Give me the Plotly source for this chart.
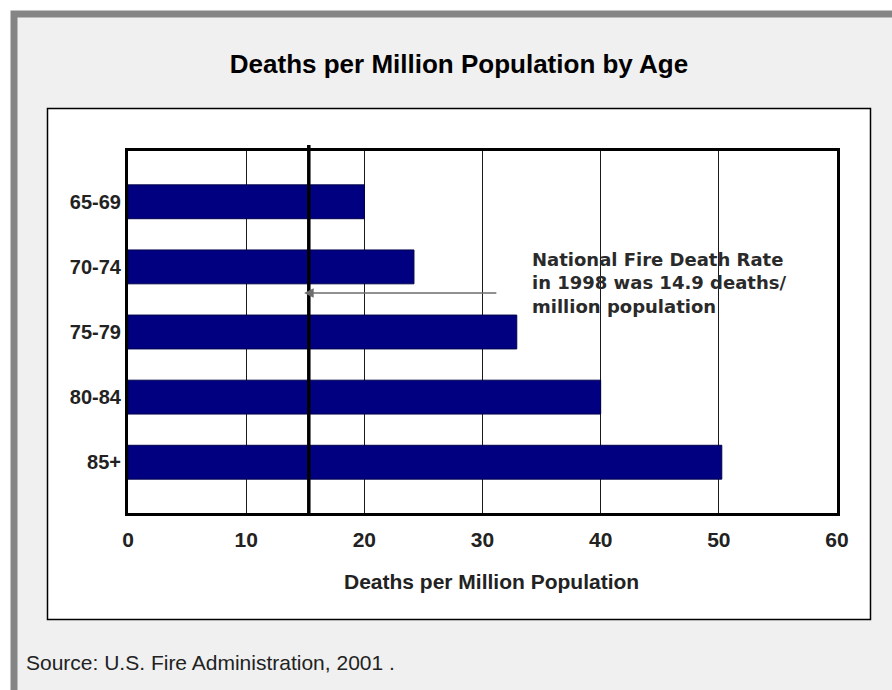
import plotly.graph_objects as go

# ---- data ----
age_groups = ["65-69", "70-74", "75-79", "80-84", "85+"]
deaths_per_million = [20.0, 24.2, 32.9, 40.0, 50.25]
x_ticks = [0, 10, 20, 30, 40, 50, 60]
national_rate = 14.9          # value quoted in the note (arrow tip)
ref_line_x = 15.3             # where the vertical reference line is drawn
arrow_tail_x = 31.3
arrow_y = 1.40                # between 70-74 and 75-79
note_x = 34.0
note_y = 1.25
note_text = "National Fire Death Rate<br>in 1998 was 14.9 deaths/<br>million population"
title_text = "Deaths per Million Population by Age"
x_title_text = "Deaths per Million Population"
source_text = "Source: U.S. Fire Administration, 2001 ."

W, H = 892, 690
L, R, T, B = 128, 55, 151, 177
PW, PH = W - L - R, H - T - B


def px(x):
    return (x - L) / PW


def py(y):
    return (H - B - y) / PH


ARIAL = "Liberation Sans, Arial, sans-serif"

fig = go.Figure()
fig.add_trace(go.Bar(
    y=age_groups, x=deaths_per_million, orientation="h",
    width=0.52,
    marker=dict(color="#000080", line=dict(color="#00004a", width=1)),
    hoverinfo="x+y",
))

shapes = [
    # outer light-grey panel with grey frame
    dict(type="rect", xref="paper", yref="paper", layer="below",
         x0=px(14), x1=px(905), y0=py(14), y1=py(705),
         fillcolor="#f0f0f0", line=dict(color="#858585", width=7)),
    # inner white chart box
    dict(type="rect", xref="paper", yref="paper", layer="below",
         x0=px(47.5), x1=px(870.5), y0=py(108.5), y1=py(619.5),
         fillcolor="#ffffff", line=dict(color="#000000", width=1.5)),
    # national rate reference line
    dict(type="line", xref="x", yref="paper",
         x0=ref_line_x, x1=ref_line_x, y0=0, y1=py(145),
         line=dict(color="#000000", width=3.5)),
]

annotations = [
    dict(x=national_rate, y=arrow_y, xref="x", yref="y",
         ax=arrow_tail_x, ay=arrow_y, axref="x", ayref="y",
         text="", showarrow=True, arrowhead=2, arrowsize=1.2,
         arrowwidth=1.6, arrowcolor="#6e6e6e"),
    dict(x=note_x, y=note_y, xref="x", yref="y", xanchor="left", yanchor="middle",
         text=note_text, showarrow=False, align="left",
         font=dict(family="DejaVu Sans", size=18, color="#2a2a2a", weight="bold")),
    dict(x=px(491.5), y=py(581), xref="paper", yref="paper",
         xanchor="center", yanchor="middle", text=x_title_text, showarrow=False,
         font=dict(family=ARIAL, size=21, color="#222222", weight="bold")),
    dict(x=px(24), y=py(662), xref="paper", yref="paper",
         xanchor="left", yanchor="middle", text=source_text, showarrow=False,
         font=dict(family=ARIAL, size=21, color="#222222")),
]

fig.update_layout(
    width=W, height=H,
    margin=dict(l=L, r=R, t=T, b=B, pad=0),
    paper_bgcolor="#ffffff", plot_bgcolor="#ffffff",
    showlegend=False,
    title=dict(text=title_text, x=459 / W, xanchor="center",
               y=1 - 64 / H, yanchor="middle", yref="container",
               font=dict(family=ARIAL, size=26, color="#000000", weight="bold")),
    shapes=shapes, annotations=annotations,
    xaxis=dict(range=[0, 60], tickvals=x_ticks, showgrid=True,
               gridcolor="#1a1a1a", gridwidth=1.2, zeroline=False,
               showline=True, mirror=True, linecolor="#000000", linewidth=3,
               ticks="", ticklabelstandoff=6,
               tickfont=dict(family=ARIAL, size=21, color="#222222", weight="bold")),
    yaxis=dict(type="category", categoryorder="array", categoryarray=age_groups,
               range=[4.78, -0.78], showgrid=False, zeroline=False,
               showline=True, mirror=True, linecolor="#000000", linewidth=3,
               ticks="", ticklabelstandoff=0,
               tickfont=dict(family=ARIAL, size=20, color="#222222", weight="bold")),
)

fig.write_html("out.html")
